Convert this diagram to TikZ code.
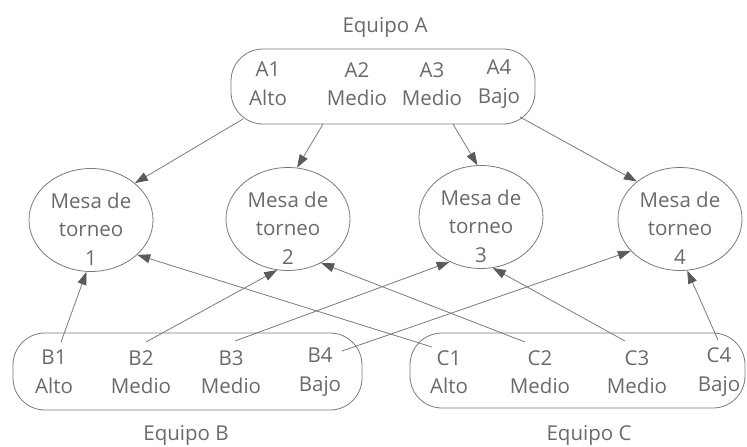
\documentclass[tikz,border=0pt]{standalone}
\usepackage{fontspec}
\setmainfont{Open Sans}
\usetikzlibrary{arrows.meta,shapes.geometric}
\definecolor{txt}{HTML}{6A6A6A}
\definecolor{ln}{HTML}{7A7A7A}
\definecolor{tip}{HTML}{5A5A5A}
\tikzset{
  teambox/.style={draw=ln, line width=0.8pt, rounded corners=32pt, inner sep=0pt},
  mesa/.style={draw=ln, line width=0.8pt, ellipse, minimum width=124pt, minimum height=103pt, inner sep=0pt},
  lbl/.style={text=txt, align=center, inner sep=0pt, font=\fontsize{20.5}{28.5}\selectfont},
  arr/.style={draw=ln, line width=0.8pt, -{Triangle[length=13pt,width=9pt,fill=tip,color=tip]}}
}
\begin{document}
\begin{tikzpicture}[x=1pt,y=-1pt]
\useasboundingbox (0,0) rectangle (747,447);
% team boxes
\node[teambox, minimum width=304pt, minimum height=75pt] (A) at (383,86.5) {};
\node[teambox, minimum width=349pt, minimum height=77pt] (B) at (187.5,371.5) {};
\node[teambox, minimum width=335pt, minimum height=75pt] (C) at (577.5,370.5) {};
% team labels
\node[lbl] (la) at (385,27) {Equipo A};
\node[lbl] (lb) at (186,435) {Equipo B};
\node[lbl] (lc) at (589,435) {Equipo C};
% players
\node[lbl] (a1) at (268,84) {A1\\Alto};
\node[lbl] (a2) at (357,84) {A2\\Medio};
\node[lbl] (a3) at (432,84) {A3\\Medio};
\node[lbl] (a4) at (499,84) {A4\\Bajo};
\node[lbl] (b1) at (54,372) {B1\\Alto};
\node[lbl] (b2) at (141,372) {B2\\Medio};
\node[lbl] (b3) at (231,372) {B3\\Medio};
\node[lbl] (b4) at (320,372) {B4\\Bajo};
\node[lbl] (c1) at (449,372) {C1\\Alto};
\node[lbl] (c2) at (540,372) {C2\\Medio};
\node[lbl] (c3) at (637,372) {C3\\Medio};
\node[lbl] (c4) at (719,372) {C4\\Bajo};
% tables
\node[mesa] (m1) at (91,220) {};
\node[mesa] (m2) at (288,219) {};
\node[mesa] (m3) at (481,217) {};
\node[mesa] (m4) at (680,219) {};
\node[lbl] (t1) at (91,229) {Mesa de\\torneo\\1};
\node[lbl] (t2) at (288,228) {Mesa de\\torneo\\2};
\node[lbl] (t3) at (481,226) {Mesa de\\torneo\\3};
\node[lbl] (t4) at (680,228) {Mesa de\\torneo\\4};
% start points
\coordinate (sa1) at (243,119);
\coordinate (sa2) at (323,124);
\coordinate (sa3) at (453,124);
\coordinate (sa4) at (520,117);
\coordinate (sb1) at (61,342);
\coordinate (sb2) at (146,342);
\coordinate (sb3) at (235,341);
\coordinate (sb4) at (342,351);
\coordinate (sc1) at (432,347);
\coordinate (sc2) at (525,342);
\coordinate (sc3) at (625,341);
\coordinate (sc4) at (718,340);
% connectors
\draw[arr] (sa1) -- (m1.40);
\draw[arr] (sa2) -- (m2.80);
\draw[arr] (sa3) -- (m3.94);
\draw[arr] (sa4) -- (m4.139);
\draw[arr] (sb1) -- (m1.-95);
\draw[arr] (sb2) -- (m2.-102);
\draw[arr] (sb3) -- (m3.-125);
\draw[arr] (sb4) -- (m4.-147);
\draw[arr] (sc1) -- (m1.-37);
\draw[arr] (sc2) -- (m2.-53);
\draw[arr] (sc3) -- (m3.-77);
\draw[arr] (sc4) -- (m4.-82);
\end{tikzpicture}
\end{document}
